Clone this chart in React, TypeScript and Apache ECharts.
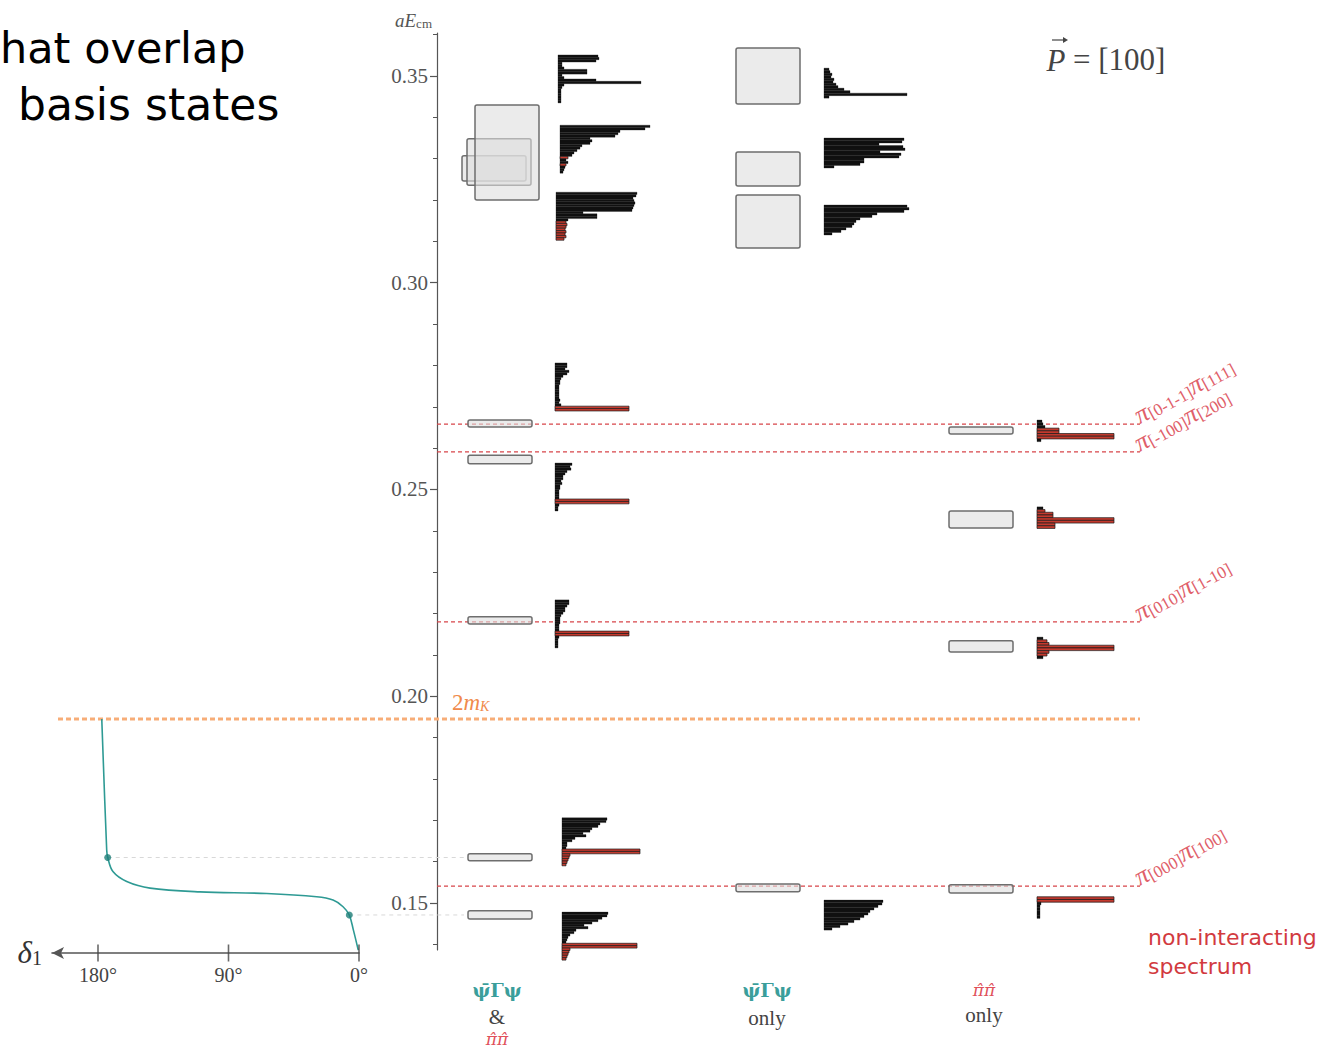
import React, { useEffect, useRef } from "react";
import * as echarts from "echarts";

// ---------------- data ----------------
const yMajorTicks = [0.15, 0.2, 0.25, 0.3, 0.35];
const yMinorTicks = [0.14, 0.15, 0.16, 0.17, 0.18, 0.19, 0.2, 0.21, 0.22, 0.23, 0.24, 0.25, 0.26, 0.27, 0.28, 0.29, 0.3, 0.31, 0.32, 0.33, 0.34, 0.35, 0.36];
const deltaTicks = [0, 90, 180];

// energy levels [low, high] (aE_cm) per operator basis
const levelsMixed = [
  [0.3246, 0.3307],
  [0.3236, 0.3348],
  [0.32, 0.343],
  [0.2651, 0.2668],
  [0.2562, 0.2583],
  [0.2175, 0.2192],
  [0.1602, 0.1619],
  [0.1461, 0.1481],
];
const levelsQuark = [
  [0.3432, 0.3568],
  [0.3234, 0.3316],
  [0.3084, 0.3212],
  [0.1527, 0.1546],
];
const levelsPiPi = [
  [0.2634, 0.2651],
  [0.2407, 0.2448],
  [0.2107, 0.2134],
  [0.1524, 0.1544],
];

const nonInteracting = [0.2658, 0.2591, 0.218, 0.1541];
const nonIntLabels = [
  ["0-1-1", "111"],
  ["-100", "200"],
  ["010", "1-10"],
  ["000", "100"],
];
const twoMK = 0.1945;

// phase shift curve delta_1 (deg) vs energy
const phaseDeg = [177.4, 174.0, 173.3, 169.7, 160.2, 144.1, 109.7, 63.7, 29.2, 17.9, 11.0, 6.7, 3.9, 0.5];
const phaseE = [0.1945, 0.1628, 0.161, 0.1576, 0.1552, 0.1536, 0.1527, 0.1523, 0.1515, 0.1507, 0.1491, 0.1471, 0.1435, 0.1386];
const phaseDotDeg = [173.3, 6.7];
const phaseDotE = [0.161, 0.1471];

// overlap histograms: top energy of each histogram and overlaps Z per operator
const histMixedTop = [0.3551, 0.3381, 0.3219, 0.2806, 0.2564, 0.2233, 0.1706, 0.1478];
const histMixedZ = [
  [0.4, 0.41, 0.38, 0.04, 0.04, 0.06, 0.29, 0.29, 0.04, 0.06, 0.38, 0.83, 0.06, 0.04, 0.03, 0.03, 0.03, 0.03, 0.03, 0.03],
  [0.9, 0.85, 0.6, 0.58, 0.55, 0.3, 0.32, 0.3, 0.22, 0.2, 0.17, 0.14, 0.12, 0.08, 0.06, 0.08, 0.06, 0.05, 0.04, 0.03],
  [0.81, 0.8, 0.77, 0.78, 0.79, 0.78, 0.77, 0.76, 0.27, 0.41, 0.41, 0.12, 0.1, 0.11, 0.1, 0.09, 0.1, 0.09, 0.1, 0.08],
  [0.12, 0.12, 0.1, 0.14, 0.12, 0.08, 0.06, 0.05, 0.05, 0.04, 0.04, 0.04, 0.04, 0.04, 0.04, 0.05, 0.04, 0.06, 0.74, 0.74],
  [0.17, 0.15, 0.16, 0.12, 0.1, 0.08, 0.08, 0.06, 0.07, 0.05, 0.05, 0.04, 0.04, 0.04, 0.04, 0.74, 0.74, 0.04, 0.03, 0.03],
  [0.14, 0.14, 0.12, 0.1, 0.1, 0.08, 0.06, 0.05, 0.05, 0.05, 0.04, 0.04, 0.04, 0.74, 0.74, 0.04, 0.03, 0.03, 0.03, 0.03],
  [0.45, 0.44, 0.38, 0.36, 0.3, 0.28, 0.21, 0.24, 0.13, 0.1, 0.05, 0.05, 0.04, 0.78, 0.78, 0.08, 0.07, 0.06, 0.05, 0.04],
  [0.46, 0.45, 0.4, 0.36, 0.3, 0.22, 0.26, 0.14, 0.12, 0.08, 0.06, 0.05, 0.04, 0.75, 0.75, 0.08, 0.07, 0.06, 0.05, 0.04],
];
const histMixedRed = [
  [],
  [13, 16],
  [12, 13, 14, 15, 16, 17, 18, 19],
  [18, 19],
  [15, 16],
  [13, 14],
  [13, 14, 15, 16, 17, 18, 19],
  [13, 14, 15, 16, 17, 18, 19],
];
const histQuarkTop = [0.3519, 0.335, 0.3188, 0.1507];
const histQuarkZ = [
  [0.05, 0.06, 0.08, 0.07, 0.1, 0.09, 0.12, 0.14, 0.2, 0.26, 0.83, 0.05],
  [0.8, 0.78, 0.55, 0.79, 0.81, 0.56, 0.77, 0.75, 0.4, 0.4, 0.36, 0.1],
  [0.83, 0.85, 0.8, 0.53, 0.48, 0.36, 0.32, 0.3, 0.28, 0.22, 0.17, 0.08],
  [0.59, 0.58, 0.54, 0.5, 0.46, 0.44, 0.4, 0.36, 0.3, 0.24, 0.16, 0.08],
];
const histQuarkRed = [[], [], [], []];
const histPiPiTop = [0.2668, 0.2458, 0.2143, 0.1515];
const histPiPiZ = [
  [0.05, 0.06, 0.08, 0.22, 0.22, 0.77, 0.77, 0.04],
  [0.06, 0.08, 0.16, 0.16, 0.77, 0.77, 0.18, 0.18],
  [0.06, 0.1, 0.12, 0.77, 0.77, 0.12, 0.1, 0.06],
  [0.77, 0.77, 0.04, 0.03, 0.03, 0.03, 0.03, 0.03],
];
const histPiPiRed = [[3, 4, 5, 6], [1, 2, 3, 4, 5, 6, 7], [1, 2, 3, 4, 5, 6], [0, 1]];

// ---------------- layout ----------------
const Y_MIN = 0.13863;
const Y_MAX = 0.3604;
const DY_MIN = 0.13791;
const AXIS_X = 437;
const DELTA_LEFT = 52;
const DELTA_ZERO_X = 359;
const PX_PER_DEG = 1.45;
const DELTA_MAX = (DELTA_ZERO_X - DELTA_LEFT) / PX_PER_DEG;
const BOX_X = [468, 736, 949];
const BOX_W = 64;
const MIXED_SHIFT = [-6, -1, 7];
const HIST_X = [
  [558, 560, 556, 555, 555, 555, 562, 562],
  [824, 824, 824, 824],
  [1037, 1037, 1037, 1037],
];
const BAR_PX = [2.4, 2.5, 2.7];
const Z_PX = 100;
const LINE_X0 = AXIS_X;
const LINE_X1 = 1140;
const LABEL_ROT = 0.5;

const RED = "#d8454a";
const RED_LIGHT = "#e0606a";
const BAR_RED = "#c43a2e";
const TEAL = "#2e9a94";
const ORANGE = "#f7ad78";
const GRAY = "#555";
const SERIF = "'Liberation Serif', 'DejaVu Serif', serif";
const SERIF_GREEK = "'DejaVu Serif', serif";

const levelCols = [levelsMixed, levelsQuark, levelsPiPi];
const histTops = [histMixedTop, histQuarkTop, histPiPiTop];
const histZs = [histMixedZ, histQuarkZ, histPiPiZ];
const histReds = [histMixedRed, histQuarkRed, histPiPiRed];

const boxData: number[][] = [];
levelCols.forEach((col, c) => col.forEach((lv, i) => boxData.push([c, lv[0], lv[1], i])));

const histData: number[][] = [];
histZs.forEach((col, c) =>
  col.forEach((zs, k) =>
    zs.forEach((z, i) => histData.push([c, k, i, z, histReds[c][k].includes(i) ? 1 : 0]))
  )
);

function labelText(x: number, y: number, text: string, size: number, fill: string, extra: any = {}) {
  return {
    type: "text",
    x,
    y,
    style: { text, fontFamily: SERIF, fontSize: size, fill, align: "center", verticalAlign: "middle", ...extra },
  };
}

function buildOption(): any {
  const series: any[] = [];

  // 2 m_K threshold
  series.push({
    type: "line",
    xAxisIndex: 0,
    yAxisIndex: 0,
    data: [
      [58, twoMK],
      [LINE_X1, twoMK],
    ],
    symbol: "none",
    silent: true,
    lineStyle: { color: ORANGE, width: 3, type: [5, 3] },
    z: 1,
  });

  // non-interacting levels
  nonInteracting.forEach((e) =>
    series.push({
      type: "line",
      xAxisIndex: 0,
      yAxisIndex: 0,
      data: [
        [LINE_X0, e],
        [LINE_X1, e],
      ],
      symbol: "none",
      silent: true,
      lineStyle: { color: RED, width: 1.2, type: [4, 3] },
      z: 1,
    })
  );

  // faint guides from phase-shift points
  phaseDotE.forEach((e, i) =>
    series.push({
      type: "line",
      xAxisIndex: 0,
      yAxisIndex: 0,
      data: [
        [DELTA_ZERO_X - phaseDotDeg[i] * PX_PER_DEG, e],
        [BOX_X[0] - 4, e],
      ],
      symbol: "none",
      silent: true,
      lineStyle: { color: "#d8d8d8", width: 1, type: [4, 4] },
      z: 1,
    })
  );

  // energy level boxes
  series.push({
    type: "custom",
    xAxisIndex: 0,
    yAxisIndex: 0,
    data: boxData,
    z: 3,
    renderItem: (params: any, api: any) => {
      const c = api.value(0);
      const lo = api.value(1);
      const hi = api.value(2);
      const idx = api.value(3);
      const shift = c === 0 && idx < 3 ? MIXED_SHIFT[idx] : 0;
      const x = BOX_X[c] + shift;
      const p1 = api.coord([x, hi]);
      const p2 = api.coord([x, lo]);
      return {
        type: "rect",
        shape: { x: p1[0], y: p1[1], width: BOX_W, height: p2[1] - p1[1], r: 2 },
        style: { fill: "rgba(222,222,222,0.6)", stroke: "#6e6e6e", lineWidth: 1.5 },
      };
    },
  });

  // overlap histograms
  series.push({
    type: "custom",
    xAxisIndex: 0,
    yAxisIndex: 0,
    data: histData,
    z: 4,
    renderItem: (params: any, api: any) => {
      const c = api.value(0);
      const k = api.value(1);
      const i = api.value(2);
      const z = api.value(3);
      const red = api.value(4) === 1;
      const p = api.coord([HIST_X[c][k], histTops[c][k]]);
      const t = BAR_PX[c];
      return {
        type: "rect",
        shape: { x: p[0], y: p[1] + i * t, width: Math.max(z * Z_PX, 2), height: t },
        style: red
          ? { fill: BAR_RED, stroke: "#1a1a1a", lineWidth: 0.7 }
          : { fill: "#111", stroke: "#111", lineWidth: 0.3 },
      };
    },
  });

  // labels of non-interacting levels
  series.push({
    type: "custom",
    xAxisIndex: 0,
    yAxisIndex: 0,
    data: nonInteracting.map((e, i) => [e, i]),
    z: 5,
    renderItem: (params: any, api: any) => {
      const e = api.value(0);
      const i = api.value(1);
      const p = api.coord([LINE_X1 + 2, e]);
      const [a, b] = nonIntLabels[i];
      return {
        type: "text",
        x: p[0],
        y: p[1] + 4,
        rotation: LABEL_ROT,
        style: {
          text: `{p|π}{s|[${a}]}{p|π}{s|[${b}]}`,
          align: "left",
          verticalAlign: "bottom",
          rich: {
            p: { fill: RED_LIGHT, fontFamily: SERIF, fontStyle: "italic", fontSize: 26, verticalAlign: "bottom" },
            s: { fill: RED_LIGHT, fontFamily: SERIF, fontSize: 17, verticalAlign: "bottom" },
          },
        },
      };
    },
  });

  // phase shift curve
  series.push({
    type: "line",
    xAxisIndex: 1,
    yAxisIndex: 2,
    data: phaseDeg.map((d, i) => [d, phaseE[i]]),
    symbol: "none",
    smooth: 0.35,
    silent: true,
    lineStyle: { color: TEAL, width: 1.6 },
    z: 3,
  });
  series.push({
    type: "scatter",
    xAxisIndex: 1,
    yAxisIndex: 2,
    data: phaseDotDeg.map((d, i) => [d, phaseDotE[i]]),
    symbolSize: 7,
    itemStyle: { color: "#1f7f79" },
    silent: true,
    z: 4,
  });
  // crossing tick marks of the delta axis
  series.push({
    type: "scatter",
    xAxisIndex: 1,
    yAxisIndex: 2,
    data: deltaTicks.map((d) => [d, DY_MIN]),
    symbol: "rect",
    symbolSize: [1.6, 17],
    itemStyle: { color: "#444" },
    clip: false,
    silent: true,
    z: 5,
  });

  return {
    animation: false,
    backgroundColor: "#fff",
    grid: [
      { left: 0, top: 33, width: 1340, height: 917 },
      { left: DELTA_LEFT, top: 33, width: DELTA_ZERO_X - DELTA_LEFT, height: 920 },
    ],
    xAxis: [
      { type: "value", gridIndex: 0, min: 0, max: 1340, show: false },
      {
        type: "value",
        gridIndex: 1,
        min: 0,
        max: DELTA_MAX,
        inverse: true,
        position: "bottom",
        axisLine: {
          show: true,
          onZero: false,
          symbol: ["arrow", "none"],
          symbolSize: [9, 12],
          lineStyle: { color: "#555", width: 1.6 },
        },
        axisTick: { show: false },
        axisLabel: {
          customValues: deltaTicks,
          formatter: (v: number) => `${v}°`,
          color: "#444",
          fontFamily: SERIF,
          fontSize: 20,
          margin: 12,
        },
        splitLine: { show: false },
      },
    ],
    yAxis: [
      {
        type: "value",
        gridIndex: 0,
        min: Y_MIN,
        max: Y_MAX,
        position: "left",
        offset: -AXIS_X,
        axisLine: { show: true, onZero: false, lineStyle: { color: "#555", width: 1.2 } },
        axisTick: { show: true, length: 4, customValues: yMinorTicks, lineStyle: { color: "#555", width: 1 } },
        axisLabel: {
          customValues: yMajorTicks,
          formatter: (v: number) => v.toFixed(2),
          color: GRAY,
          fontFamily: SERIF,
          fontSize: 21,
          margin: 9,
        },
        splitLine: { show: false },
      },
      {
        type: "value",
        gridIndex: 0,
        min: Y_MIN,
        max: Y_MAX,
        position: "right",
        offset: -(1340 - AXIS_X),
        axisLine: { show: false, onZero: false },
        axisTick: { show: true, inside: true, length: 7, customValues: yMajorTicks, lineStyle: { color: "#555", width: 1.2 } },
        axisLabel: { show: false },
        splitLine: { show: false },
      },
      { type: "value", gridIndex: 1, min: DY_MIN, max: Y_MAX, show: false },
    ],
    graphic: [
      {
        type: "text",
        x: 0,
        y: 48,
        style: { text: "hat overlap", fontFamily: "'DejaVu Sans', sans-serif", fontSize: 43, fill: "#000", verticalAlign: "middle" },
      },
      {
        type: "text",
        x: 18,
        y: 104,
        style: { text: "basis states", fontFamily: "'DejaVu Sans', sans-serif", fontSize: 44, fill: "#000", verticalAlign: "middle" },
      },
      {
        type: "text",
        x: 432,
        y: 20,
        style: {
          text: "{i|aE}{s|cm}",
          align: "right",
          verticalAlign: "middle",
          rich: {
            i: { fill: GRAY, fontFamily: SERIF, fontStyle: "italic", fontSize: 19, verticalAlign: "bottom" },
            s: { fill: GRAY, fontFamily: SERIF, fontSize: 13, verticalAlign: "bottom" },
          },
        },
      },
      // vector arrow above P
      {
        type: "line",
        shape: { x1: 1052, y1: 40, x2: 1065, y2: 40 },
        style: { stroke: "#444", lineWidth: 1.2 },
      },
      {
        type: "polygon",
        shape: {
          points: [
            [1063, 37],
            [1068, 40],
            [1063, 43],
          ],
        },
        style: { fill: "#444" },
      },
      {
        type: "text",
        x: 1056,
        y: 60,
        style: { text: "P", fontFamily: SERIF, fontStyle: "italic", fontSize: 31, fill: "#444", align: "center", verticalAlign: "middle" },
      },
      {
        type: "text",
        x: 1073,
        y: 59,
        style: { text: "= [100]", fontFamily: SERIF, fontSize: 31, fill: "#444", align: "left", verticalAlign: "middle" },
      },
      {
        type: "text",
        x: 452,
        y: 702,
        style: {
          text: "{a|2}{b|m}{c|K}",
          verticalAlign: "middle",
          rich: {
            a: { fill: "#f08a4b", fontFamily: SERIF, fontSize: 23, verticalAlign: "bottom" },
            b: { fill: "#f08a4b", fontFamily: SERIF, fontStyle: "italic", fontSize: 23, verticalAlign: "bottom" },
            c: { fill: "#f08a4b", fontFamily: SERIF, fontStyle: "italic", fontSize: 14, verticalAlign: "bottom" },
          },
        },
      },
      {
        type: "text",
        x: 42,
        y: 952,
        style: {
          text: "{d|δ}{s|1}",
          align: "right",
          verticalAlign: "middle",
          rich: {
            d: { fill: "#333", fontFamily: SERIF, fontStyle: "italic", fontSize: 31, verticalAlign: "bottom" },
            s: { fill: "#333", fontFamily: SERIF, fontSize: 20, verticalAlign: "bottom" },
          },
        },
      },
      {
        type: "text",
        x: 1148,
        y: 937,
        style: { text: "non-interacting", fontFamily: "'DejaVu Sans', sans-serif", fontSize: 22, fill: "#d23a3f", verticalAlign: "middle" },
      },
      {
        type: "text",
        x: 1148,
        y: 966,
        style: { text: "spectrum", fontFamily: "'DejaVu Sans', sans-serif", fontSize: 22, fill: "#d23a3f", verticalAlign: "middle" },
      },
      labelText(497, 990, "ψ̄Γψ", 19, "#3a9e9b", { fontFamily: SERIF_GREEK, fontWeight: "bold" }),
      labelText(497, 1017, "&", 21, "#444"),
      labelText(497, 1039, "π̂π̂", 17, "#e0505a", { fontFamily: SERIF_GREEK, fontStyle: "italic" }),
      labelText(767, 990, "ψ̄Γψ", 19, "#3a9e9b", { fontFamily: SERIF_GREEK, fontWeight: "bold" }),
      labelText(767, 1018, "only", 21, "#444"),
      labelText(984, 990, "π̂π̂", 17, "#e0505a", { fontFamily: SERIF_GREEK, fontStyle: "italic" }),
      labelText(984, 1015, "only", 21, "#444"),
    ],
    series,
  };
}

export default function App() {
  const ref = useRef<HTMLDivElement>(null);
  useEffect(() => {
    if (!ref.current) return;
    const chart = echarts.init(ref.current, undefined, { renderer: "svg" });
    chart.setOption(buildOption());
    return () => chart.dispose();
  }, []);
  return (
    <div
      ref={ref}
      style={{ position: "absolute", left: 0, top: 0, width: 1340, height: 1050, background: "#fff" }}
    />
  );
}
